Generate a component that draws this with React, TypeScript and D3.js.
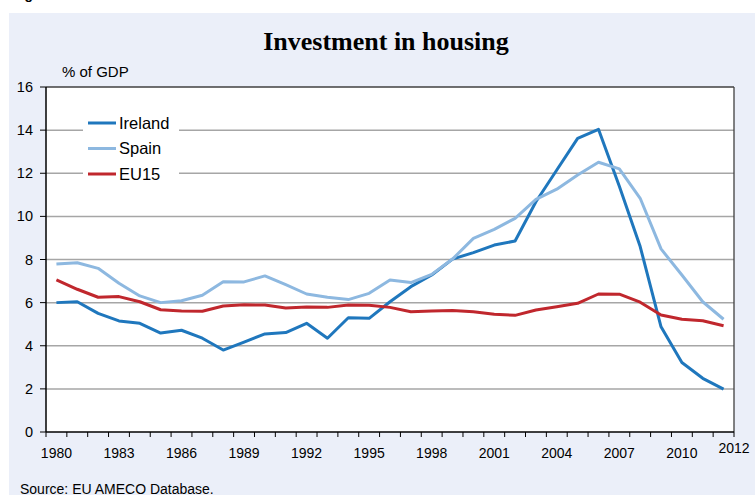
import React from 'react';
import * as d3 from 'd3';

// ---- data ----
const years = d3.range(1980, 2013);

const ireland = [
  6.0, 6.04, 5.5, 5.15, 5.04, 4.59, 4.72, 4.35, 3.8, 4.17, 4.55,
  4.61, 5.04, 4.35, 5.3, 5.27, 6.04, 6.74, 7.28, 8.02, 8.32,
  8.67, 8.86, 10.68, 12.15, 13.62, 14.04, 11.4, 8.6, 4.88, 3.22,
  2.49, 1.99,
];
const spain = [
  7.79, 7.85, 7.59, 6.9, 6.31, 6.0, 6.09, 6.34, 6.97, 6.96, 7.24,
  6.83, 6.4, 6.25, 6.14, 6.43, 7.05, 6.93, 7.31, 8.02, 8.98,
  9.4, 9.91, 10.79, 11.26, 11.92, 12.51, 12.2, 10.84, 8.49, 7.28,
  6.04, 5.23,
];
const eu15 = [
  7.05, 6.62, 6.25, 6.28, 6.04, 5.67, 5.61, 5.6, 5.84, 5.9, 5.89,
  5.75, 5.8, 5.78, 5.89, 5.88, 5.78, 5.58, 5.61, 5.64, 5.58,
  5.46, 5.41, 5.66, 5.81, 5.97, 6.4, 6.39, 6.02, 5.43, 5.23,
  5.16, 4.93,
];

const seriesNames = ['Ireland', 'Spain', 'EU15'];
const seriesColors = ['#1f77bd', '#8db8e0', '#c0272d'];
const yTicks = [0, 2, 4, 6, 8, 10, 12, 14, 16];
const xLabelYears = [1980, 1983, 1986, 1989, 1992, 1995, 1998, 2001, 2004, 2007, 2010];

const W = 755;
const H = 495;
const plot = { left: 46, top: 87, right: 734, bottom: 432 };

export default function App() {
  const x = d3.scaleBand<number>()
    .domain(years)
    .range([plot.left, plot.right])
    .paddingInner(0)
    .paddingOuter(0);
  const y = d3.scaleLinear().domain([0, 16]).range([plot.bottom, plot.top]);
  const cx = (yr: number) => (x(yr) as number) + x.bandwidth() / 2;

  const line = d3.line<number>()
    .x((_, i) => cx(years[i]))
    .y(d => y(d));

  const allSeries = [ireland, spain, eu15];
  const font = 'Arial, "Liberation Sans", sans-serif';

  // category boundaries for ticks
  const boundaries = years.map(yr => x(yr) as number).concat([plot.right]);

  return (
    <div style={{ position: 'absolute', left: 0, top: 0 }}>
      <svg width={W} height={H} style={{ display: 'block' }}>
        <rect x={0} y={0} width={W} height={H} fill="#ffffff" />
        {/* caption of the page above, only its descenders show */}
        <text x={12} y={-1} fontFamily={font} fontSize={14} fontWeight="bold" fill="#000">Fig</text>
        <rect x={9} y={13} width={W - 9} height={H - 13} fill="#ebeff9" />

        {/* title */}
        <text x={386} y={50} textAnchor="middle" fontFamily='"Liberation Serif", "Times New Roman", serif'
          fontWeight="bold" fontSize={26} fill="#000">Investment in housing</text>
        <text x={62} y={77} fontFamily={font} fontSize={15} fill="#000">% of GDP</text>

        {/* plot area */}
        <rect x={plot.left} y={plot.top} width={plot.right - plot.left} height={plot.bottom - plot.top} fill="#fff" />
        {yTicks.filter(t => t > 0 && t < 16).map(t => (
          <line key={t} x1={plot.left} x2={plot.right} y1={y(t)} y2={y(t)} stroke="#a6a6a6" strokeWidth={1.5} />
        ))}

        {/* legend box */}
        <rect x={83} y={110} width={96} height={76} fill="#fff" />

        {allSeries.map((s, i) => (
          <path key={i} d={line(s) ?? ''} fill="none" stroke={seriesColors[i]} strokeWidth={3}
            strokeLinejoin="round" />
        ))}

        {/* frame */}
        <line x1={plot.left} x2={plot.right} y1={plot.top} y2={plot.top} stroke="#404040" strokeWidth={1.3} />
        <line x1={plot.right} x2={plot.right} y1={plot.top} y2={plot.bottom} stroke="#404040" strokeWidth={1.3} />
        <line x1={plot.left} x2={plot.left} y1={plot.top} y2={plot.bottom} stroke="#000" strokeWidth={1.5} />
        <line x1={plot.left} x2={plot.right} y1={plot.bottom} y2={plot.bottom} stroke="#000" strokeWidth={1.5} />

        {/* y axis */}
        {yTicks.map(t => (
          <g key={t}>
            <line x1={plot.left - 6} x2={plot.left} y1={y(t)} y2={y(t)} stroke="#000" strokeWidth={1} />
            <text x={33} y={y(t)} dy="0.35em" textAnchor="end" fontFamily={font} fontSize={14.5} fill="#000">{t}</text>
          </g>
        ))}

        {/* x axis */}
        {boundaries.map((bx, i) => (
          <line key={i} x1={bx} x2={bx} y1={plot.bottom} y2={plot.bottom + 5} stroke="#000" strokeWidth={1} />
        ))}
        {xLabelYears.map(yr => (
          <text key={yr} x={cx(yr)} y={458} textAnchor="middle" fontFamily={font} fontSize={14} fill="#000">{yr}</text>
        ))}
        <text x={plot.right} y={453} textAnchor="middle" fontFamily={font} fontSize={14} fill="#000">2012</text>

        {/* legend */}
        {seriesNames.map((name, i) => {
          const ly = 123 + i * 25.5;
          return (
            <g key={name}>
              <line x1={88} x2={116} y1={ly} y2={ly} stroke={seriesColors[i]} strokeWidth={3} />
              <text x={119} y={ly} dy="0.35em" fontFamily={font} fontSize={16.5} fill="#000">{name}</text>
            </g>
          );
        })}

        <text x={20} y={494} fontFamily={font} fontSize={14} fill="#000">Source: EU AMECO Database.</text>
      </svg>
    </div>
  );
}
